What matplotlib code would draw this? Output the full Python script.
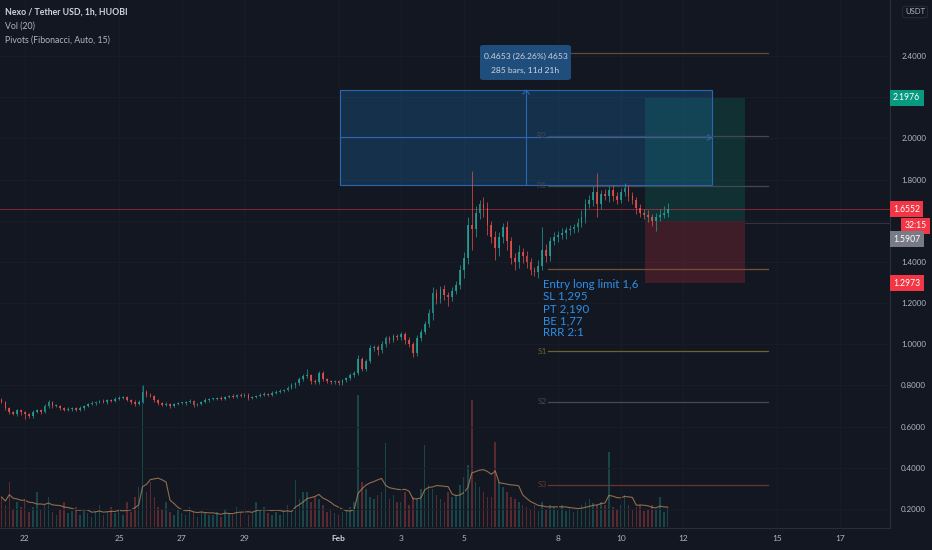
import matplotlib
matplotlib.use("Agg")
import matplotlib.pyplot as plt
import matplotlib.transforms as mtransforms
from matplotlib.patches import Rectangle, FancyBboxPatch
import numpy as np
import pandas as pd

# ---------------- data (3h bars, time in days from Jan 22 00:00) ----------------
start_day = -0.75
bar_days = 0.125
first_open = 0.73

closes = [
    0.72, 0.69, 0.67, 0.66, 0.68, 0.67,                      # Jan 21
    0.66, 0.65, 0.67, 0.68, 0.67, 0.70, 0.72, 0.70,          # Jan 22
    0.70, 0.69, 0.68, 0.685, 0.69, 0.68, 0.69, 0.70,         # Jan 23
    0.71, 0.715, 0.72, 0.725, 0.72, 0.73, 0.725, 0.735,      # Jan 24
    0.74, 0.745, 0.73, 0.72, 0.71, 0.72, 0.77, 0.755,        # Jan 25
    0.75, 0.73, 0.715, 0.705, 0.71, 0.70, 0.71, 0.715,       # Jan 26
    0.715, 0.72, 0.725, 0.705, 0.71, 0.72, 0.73, 0.735,      # Jan 27
    0.735, 0.74, 0.735, 0.745, 0.75, 0.745, 0.755, 0.75,     # Jan 28
    0.755, 0.74, 0.745, 0.75, 0.755, 0.76, 0.755, 0.765,     # Jan 29
    0.77, 0.775, 0.78, 0.79, 0.80, 0.81, 0.83, 0.845,        # Jan 30
    0.85, 0.82, 0.815, 0.86, 0.83, 0.82, 0.815, 0.82,        # Jan 31
    0.81, 0.825, 0.835, 0.85, 0.86, 0.93, 0.88, 0.92,        # Feb 1
    0.98, 0.985, 0.97, 1.00, 1.03, 1.02, 1.04, 1.035,        # Feb 2
    1.05, 1.02, 1.00, 0.96, 1.03, 1.06, 1.10, 1.15,          # Feb 3
    1.25, 1.22, 1.27, 1.24, 1.23, 1.26, 1.29, 1.36,          # Feb 4
    1.42, 1.58, 1.56, 1.64, 1.68, 1.66, 1.58, 1.52,          # Feb 5
    1.47, 1.52, 1.57, 1.50, 1.42, 1.40, 1.45, 1.43,          # Feb 6
    1.40, 1.36, 1.35, 1.38, 1.46, 1.43, 1.50, 1.52,          # Feb 7
    1.53, 1.54, 1.555, 1.56, 1.57, 1.59, 1.62, 1.68,         # Feb 8
    1.70, 1.74, 1.68, 1.73, 1.72, 1.75, 1.72, 1.70,          # Feb 9
    1.74, 1.76, 1.72, 1.70, 1.66, 1.64, 1.63, 1.62,          # Feb 10
    1.60, 1.62, 1.63, 1.64, 1.6552,                          # Feb 11
]

# upper / lower wick lengths in thousandths of USDT
wick_up = [
    10, 5, 6, 8, 6, 5,
    6, 8, 10, 6, 8, 12, 8, 6,
    8, 6, 5, 8, 6, 5, 8, 6,
    6, 8, 5, 6, 8, 6, 5, 8,
    8, 6, 5, 6, 8, 10, 30, 8,
    8, 6, 5, 6, 8, 5, 6, 5,
    6, 5, 8, 6, 5, 6, 8, 5,
    5, 6, 8, 5, 6, 8, 5, 6,
    6, 8, 5, 6, 8, 6, 5, 8,
    6, 8, 5, 8, 10, 8, 10, 12,
    30, 8, 10, 10, 8, 6, 8, 6,
    8, 6, 8, 10, 12, 20, 10, 8,
    15, 10, 12, 15, 12, 10, 12, 10,
    12, 10, 15, 10, 15, 12, 15, 20,
    30, 20, 15, 20, 15, 20, 18, 25,
    30, 40, 260, 30, 20, 35, 30, 20,
    30, 25, 20, 30, 20, 25, 30, 20,
    25, 20, 15, 30, 110, 25, 20, 25,
    20, 25, 15, 20, 15, 25, 30, 25,
    25, 30, 90, 20, 25, 20, 25, 20,
    20, 25, 15, 20, 15, 20, 15, 20,
    15, 20, 25, 30, 30,
]
wick_dn = [
    6, 8, 10, 5, 8, 12,
    25, 10, 8, 6, 10, 5, 8, 10,
    6, 8, 5, 6, 8, 6, 5, 8,
    5, 6, 8, 5, 6, 8, 6, 5,
    6, 8, 6, 8, 10, 6, 5, 10,
    8, 10, 8, 6, 5, 8, 6, 5,
    5, 8, 6, 10, 6, 5, 6, 8,
    6, 5, 6, 8, 5, 6, 8, 5,
    8, 10, 6, 5, 6, 8, 6, 5,
    5, 6, 8, 6, 8, 10, 8, 6,
    10, 12, 8, 8, 10, 6, 8, 10,
    8, 10, 6, 8, 10, 8, 12, 10,
    12, 15, 20, 10, 12, 15, 10, 12,
    15, 20, 15, 20, 15, 12, 10, 15,
    30, 25, 20, 25, 45, 20, 15, 20,
    40, 30, 100, 40, 30, 40, 50, 30,
    60, 40, 30, 40, 30, 40, 30, 35,
    30, 25, 20, 30, 20, 30, 25, 20,
    25, 20, 30, 25, 20, 25, 20, 30,
    20, 30, 60, 25, 20, 30, 25, 20,
    15, 20, 25, 20, 25, 20, 20, 25,
    25, 50, 20, 15, 20,
]

volumes = [
    30, 22, 45, 18, 25, 20,
    28, 15, 20, 35, 18, 22, 30, 15,
    12, 18, 25, 14, 16, 20, 12, 18,
    14, 10, 16, 22, 12, 15, 20, 14,
    18, 12, 25, 15, 30, 40, 142, 35,
    45, 30, 20, 18, 25, 15, 12, 18,
    14, 12, 20, 15, 10, 16, 14, 12,
    12, 15, 10, 18, 14, 12, 20, 15,
    16, 12, 14, 25, 18, 20, 14, 12,
    15, 12, 18, 22, 14, 47, 28, 35,
    35, 25, 30, 28, 22, 15, 18, 14,
    12, 15, 18, 20, 25, 132, 45, 38,
    30, 28, 32, 35, 84, 28, 32, 25,
    25, 35, 22, 30, 28, 38, 82, 42,
    38, 32, 28, 25, 35, 30, 32, 42,
    50, 62, 127, 45, 40, 35, 30, 30,
    85, 45, 40, 35, 30, 28, 25, 22,
    20, 18, 22, 16, 25, 18, 22, 20,
    18, 22, 16, 20, 15, 18, 22, 25,
    28, 24, 22, 25, 22, 75, 20, 18,
    22, 32, 22, 18, 20, 22, 16, 18,
    22, 18, 30, 15, 20,
]

time_ticks = [0, 3, 5, 7, 10, 12, 14, 17, 19, 21, 24, 26]
time_labels = ["22", "25", "27", "29", "Feb", "3", "5", "8", "10", "12", "15", "17"]
price_ticks = [0.2, 0.4, 0.6, 0.8, 1.0, 1.2, 1.4, 1.6, 1.8, 2.0, 2.2, 2.4]

pivot_names = ["R3", "R2", "R1", "P", "S1", "S2", "S3"]
pivot_levels = [2.415, 2.012, 1.769, 1.366, 0.967, 0.720, 0.317]
pivot_colors = ["#5e4b3b", "#434854", "#434854", "#7a5030", "#6e6228", "#474a54", "#6a3434"]

entry_price = 1.6
stop_price = 1.2973
target_price = 2.1976
last_price = 1.6552
gray_price = 1.5907
measure_low, measure_high = 1.774, 2.235
measure_t0, measure_t1 = 10.05, 21.92

note_lines = ["Entry long limit 1,6", "SL 1,295", "PT 2,190", "BE 1,77", "RRR 2:1"]

# ---------------- styling ----------------
BG = "#131722"
UP = "#26a69a"
DN = "#ef5350"
TXT = "#b2b5be"
W, H = 932, 550

fig = plt.figure(figsize=(W / 100, H / 100), dpi=100, facecolor=BG)
ax = fig.add_axes([0, 22 / H, 890 / W, 528 / H])
ax.set_facecolor(BG)
ax2 = ax.twinx()
ax.set_zorder(2)
ax.patch.set_visible(False)
ax2.set_zorder(1)
ax2.patch.set_facecolor(BG)
ax2.patch.set_visible(True)

n = len(closes)
t = start_day + np.arange(n) * bar_days
c = np.array(closes)
o = np.concatenate([[first_open], c[:-1]])
hi = np.maximum(o, c) + np.array(wick_up) / 1000.0
lo = np.minimum(o, c) - np.array(wick_dn) / 1000.0
up = c >= o
cols = np.where(up, UP, DN)

xmin, xmax = -25 / 31.35, (890 - 25) / 31.35
ymin, ymax = 0.2 - 19 / 205.9, 0.2 + 509 / 205.9
ax.set_xlim(xmin, xmax)
ax.set_ylim(ymin, ymax)
ax2.set_ylim(-1, 527)

# grid
for p in price_ticks:
    ax.axhline(p, color="#191d28", lw=0.7, zorder=0)
for tt in time_ticks:
    ax.axvline(tt, color="#191d28", lw=0.7, zorder=0)

# volume
ax2.bar(t, volumes, width=0.05, color=cols, alpha=0.33, linewidth=0)
vol_ma = pd.Series(volumes, dtype=float).rolling(7, min_periods=1).mean()
ax2.plot(t, vol_ma, color="#b88a5c", lw=0.8, alpha=0.75)
ax2.set_yticks([])
for s in ax2.spines.values():
    s.set_visible(False)

# measurement rectangle
ax.add_patch(Rectangle((measure_t0, measure_low), measure_t1 - measure_t0, measure_high - measure_low,
                       facecolor="#2196f3", alpha=0.2, edgecolor="none", zorder=1))
ax.add_patch(Rectangle((measure_t0, measure_low), measure_t1 - measure_t0, measure_high - measure_low,
                       facecolor="none", edgecolor="#2a67b0", lw=0.8, zorder=1.1))
tmid = (measure_t0 + measure_t1) / 2
pmid = (measure_low + measure_high) / 2
ax.plot([tmid, tmid], [measure_low, measure_high], color="#2a67b0", lw=0.8, zorder=1.1)
ax.plot([measure_t0, measure_t1], [pmid, pmid], color="#2a67b0", lw=0.8, zorder=1.1)
ax.plot([tmid - 0.1, tmid, tmid + 0.1], [measure_high - 0.02, measure_high, measure_high - 0.02],
        color="#2a67b0", lw=0.8, zorder=1.1)
ax.plot([measure_t1 - 0.15, measure_t1, measure_t1 - 0.15], [pmid + 0.012, pmid, pmid - 0.012],
        color="#2a67b0", lw=0.8, zorder=1.1)

# long position tool
pos_t0, pos_t1 = 19.78, 22.97
ax.add_patch(Rectangle((pos_t0, entry_price), pos_t1 - pos_t0, target_price - entry_price,
                       facecolor="#089981", alpha=0.2, edgecolor="none", zorder=1))
ax.add_patch(Rectangle((pos_t0, stop_price), pos_t1 - pos_t0, entry_price - stop_price,
                       facecolor="#f23645", alpha=0.2, edgecolor="none", zorder=1))

# pivots
piv_t0, piv_t1 = 16.68, 23.7
for name, lvl, pc in zip(pivot_names, pivot_levels, pivot_colors):
    ax.plot([piv_t0, piv_t1], [lvl, lvl], color=pc, lw=0.9, zorder=1.2)
    if name not in ("P", "R3"):
        ax.text(piv_t0 - 0.04, lvl, name, color=pc, fontsize=6, ha="right", va="center",
                family="Lato", zorder=1.3)

# price lines
ax.axhline(last_price, color="#f23645", lw=0.7, alpha=0.5, zorder=1.5)
ax.plot([pos_t1, xmax], [gray_price, gray_price], color="#787b86", lw=0.6, alpha=0.35, zorder=1.5)

# candles
ax.vlines(t, lo, hi, colors=cols, lw=0.6, zorder=3, alpha=0.8)
body = np.maximum(np.abs(c - o), 0.004)
ax.bar(t, body, bottom=np.minimum(o, c), width=0.055, color=cols, linewidth=0, zorder=3.1, alpha=0.8)

# note text
ax.text(16.52, 1.318, "\n".join(note_lines), color="#2e8fe6", fontsize=8.3, family="Lato",
        ha="left", va="top", linespacing=1.12, zorder=4)

# tooltip box
tb = FancyBboxPatch((480 / W, 1 - 80 / H), 91 / W, 35 / H, boxstyle="round,pad=0,rounding_size=0.004",
                    transform=fig.transFigure, facecolor="#1f4d7c", edgecolor="none", zorder=5)
fig.patches.append(tb)
fig.text(525.5 / W, 1 - 56 / H, "0.4653 (26.26%) 4653", color="#d1d4dc", fontsize=6.1,
         family="Lato", ha="center", va="center", zorder=7)
fig.text(525.5 / W, 1 - 70 / H, "285 bars, 11d 21h", color="#d1d4dc", fontsize=6.1,
         family="Lato", ha="center", va="center", zorder=7)

# axes styling
for s in ["top", "left"]:
    ax.spines[s].set_visible(False)
ax.spines["right"].set_color("#2a2e39")
ax.spines["bottom"].set_color("#2a2e39")
ax.spines["right"].set_linewidth(0.8)
ax.spines["bottom"].set_linewidth(0.8)
ax.yaxis.tick_right()
ax.set_yticks(price_ticks)
# 1.6 and 2.2 are hidden behind the price-label boxes
ax.set_yticklabels(["" if p in (1.6, 2.2) else f"{p:.4f}" for p in price_ticks])
ax.tick_params(axis="y", length=0, pad=8, labelsize=5.8, labelcolor=TXT)
ax.set_xticks(time_ticks)
ax.set_xticklabels(time_labels)
ax.tick_params(axis="x", length=0, pad=5, labelsize=6, labelcolor=TXT)
for lab in ax.get_yticklabels() + ax.get_xticklabels():
    lab.set_family("Lato")
ax.get_xticklabels()[4].set_fontweight("bold")
ax.get_xticklabels()[4].set_color("#d1d4dc")

# price-axis label boxes
trans = mtransforms.blended_transform_factory(fig.transFigure, ax.transData)
def price_box(yv, label, fc, x=893, ha="left"):
    ax.text(x / W, yv, label, transform=trans, color="white", fontsize=6.2, family="Lato",
            ha=ha, va="center", zorder=6, clip_on=False,
            bbox=dict(boxstyle="square,pad=0.4", fc=fc, ec="none"))

price_box(target_price, "2.1976", "#089981")
price_box(last_price, "1.6552", "#f23645")
price_box(1.5745, "32:15", "#f23645", x=927, ha="right")
price_box(1.511, "1.5907", "#787b86")
price_box(stop_price, "1.2973", "#f23645")

# header texts
fig.text(5 / W, 1 - 12 / H, "Nexo / Tether USD, 1h, HUOBI", color="#d1d4dc", fontsize=6.3,
         family="Lato", fontweight="bold", va="center")
fig.text(5 / W, 1 - 26 / H, "Vol (20)", color="#b2b5be", fontsize=6.3, family="Lato", va="center")
fig.text(5 / W, 1 - 40 / H, "Pivots (Fibonacci, Auto, 15)", color="#b2b5be", fontsize=6.3,
         family="Lato", va="center")
fig.text(915 / W, 1 - 12 / H, "USDT", color="#b2b5be", fontsize=5.5, family="Lato",
         ha="center", va="center",
         bbox=dict(boxstyle="round,pad=0.3,rounding_size=0.3", fc=BG, ec="#2a2e39", lw=0.6))

fig.savefig("out.png", dpi=100, facecolor=BG)
